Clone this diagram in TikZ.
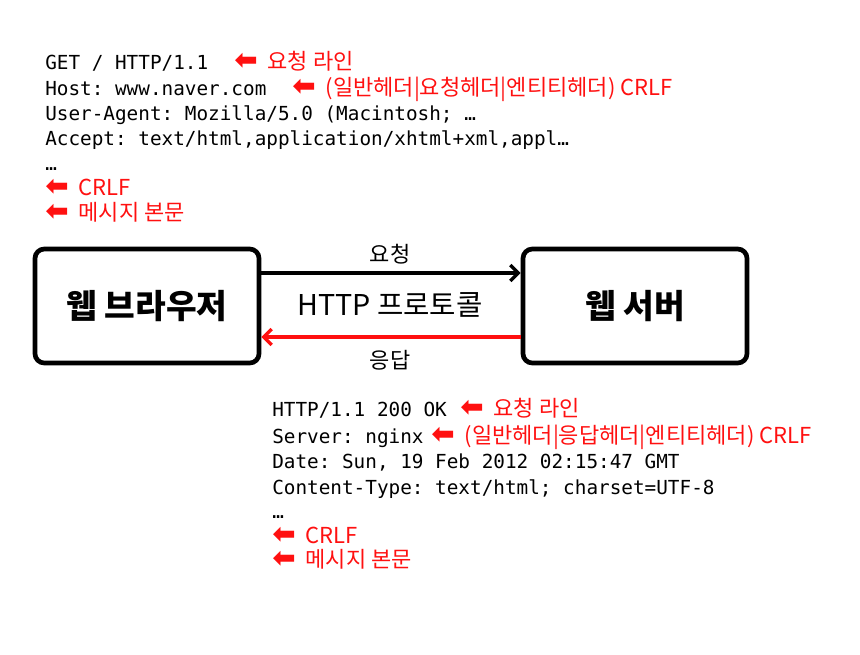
\documentclass[tikz,border=0pt]{standalone}
\usepackage{fontspec}
\setmainfont{Noto Sans CJK KR}
\setmonofont{DejaVu Sans Mono}
\newfontfamily\arrowfont{DejaVu Sans}
\usetikzlibrary{arrows.meta}
\definecolor{msgred}{RGB}{255,16,16}
\newcommand{\larr}{\smash{\arrowfont\bfseries\fontsize{21}{21}\selectfont ⬅}\hspace{0.45em}}

\begin{document}
\begin{tikzpicture}[x=0.75pt,y=-0.75pt,
  code/.style={anchor=base west,inner sep=0pt,font=\ttfamily\fontsize{14.5}{17}\selectfont},
  note/.style={anchor=base west,inner sep=0pt,text=msgred,font=\fontsize{16.5}{19}\selectfont},
  party/.style={draw,line width=3.5pt,rounded corners=7pt,minimum width=168pt,minimum height=85.5pt,font=\bfseries\fontsize{25}{30}\selectfont},
  label/.style={font=\fontsize{16.5}{19}\selectfont},
  msg/.style={line width=2.5pt,-{Straight Barb[length=6pt,width=12pt]}}]
\useasboundingbox (0,0) rectangle (860,654);

% request
\node[code] (q1) at (45,69) {GET / HTTP/1.1};
\node[code] (q2) at (45,95) {Host: www.naver.com};
\node[code] (q3) at (45,120) {User-Agent: Mozilla/5.0 (Macintosh; …};
\node[code] (q4) at (45,145) {Accept: text/html,application/xhtml+xml,appl…};
\node[code] (q5) at (45,170) {…};
\node[note] (q6) at (45,195) {\larr CRLF};
\node[note] (q7) at (45,220) {\larr 메시지 본문};
\node[note] (qn1) at (234,69) {\larr 요청 라인};
\node[note] (qn2) at (292,95) {\larr (일반헤더|요청헤더|엔티티헤더) CRLF};

% browser and server
\node[party] (browser) at (147,306) {웹 브라우저};
\node[party] (server) at (635,306) {웹 서버};
\draw[msg] ([yshift=24.75pt]browser.east) -- ([yshift=24.75pt]server.west);
\draw[msg,msgred] ([yshift=-23.25pt]server.west) -- ([yshift=-23.25pt]browser.east);
\node[label] (req) at (390,254) {요청};
\node[label,font=\fontsize{21.5}{25}\selectfont] (proto) at (390,305) {HTTP 프로토콜};
\node[label] (res) at (390,360) {응답};

% response
\node[code] (r1) at (272,416) {HTTP/1.1 200 OK};
\node[code] (r2) at (272,443) {Server: nginx};
\node[code] (r3) at (272,468) {Date: Sun, 19 Feb 2012 02:15:47 GMT};
\node[code] (r4) at (272,494) {Content-Type: text/html; charset=UTF-8};
\node[code] (r5) at (272,518) {…};
\node[note] (r6) at (272,543) {\larr CRLF};
\node[note] (r7) at (272,567) {\larr 메시지 본문};
\node[note] (rn1) at (460,416) {\larr 요청 라인};
\node[note] (rn2) at (431,443) {\larr (일반헤더|응답헤더|엔티티헤더) CRLF};
\end{tikzpicture}
\end{document}
